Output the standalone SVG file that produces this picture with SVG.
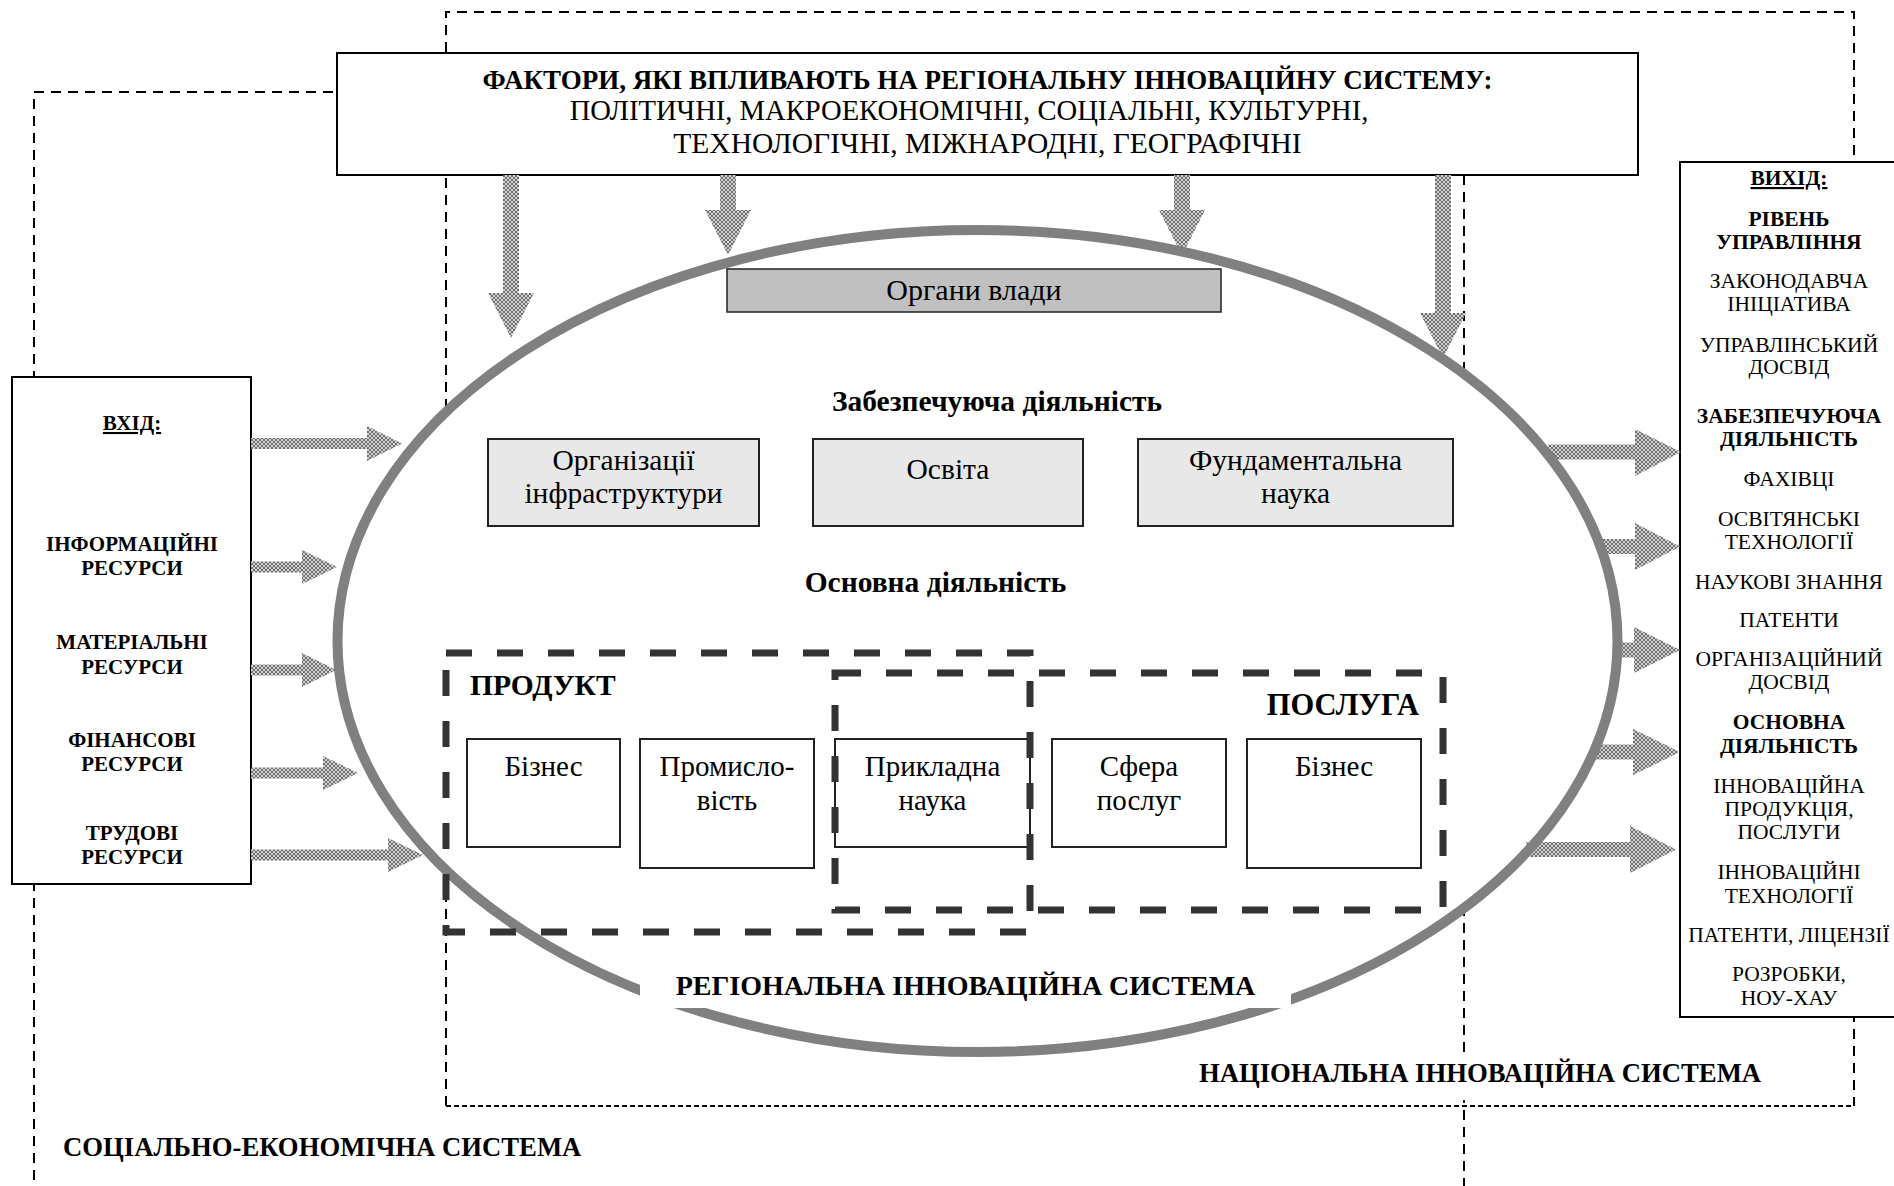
<svg xmlns="http://www.w3.org/2000/svg" width="1894" height="1186" viewBox="0 0 1894 1186">
<defs>
<pattern id="hatch" patternUnits="userSpaceOnUse" width="4" height="4">
<rect width="4" height="4" fill="#d4d4d4"/>
<path d="M0 0L4 4M4 0L0 4" stroke="#6e6e6e" stroke-width="1"/>
</pattern>
<style>
text{font-family:"Liberation Serif","Times New Roman",serif;fill:#000}
.b{font-weight:bold}
.sys{fill:none;stroke:#000;stroke-width:2;stroke-dasharray:10 7}
.sysf{fill:none;stroke:#000;stroke-width:2;stroke-dasharray:5 3}
.box{fill:#fff;stroke:#000;stroke-width:2}
.gbox{fill:#e8e8e8;stroke:#222;stroke-width:2}
.wbox{fill:#fff;stroke:#222;stroke-width:2}
.dbox{fill:none;stroke:#333;stroke-width:7;stroke-dasharray:26 25}
.arr{fill:url(#hatch);stroke:none}
.c{text-anchor:middle}
.in{font-size:21px;font-weight:bold}
.out{font-size:21.5px}
.outb{font-size:21.5px;font-weight:bold}
.bt{font-size:29.5px}
.bt2{font-size:29px}
.hd{font-size:29.5px;font-weight:bold}
</style>
</defs>

<g id="systems">
<rect id="socio-econ" class="sys" x="34" y="92" width="1430" height="1120"/>
<g id="national">
<path class="sys" d="M446 1106V12H1854V1106"/>
<path class="sysf" d="M446 1106H1854"/>
</g>
</g>

<g id="ellipse-fill">
<ellipse cx="977.5" cy="641" rx="640" ry="411" fill="#fff"/>
</g>

<g id="factors">
<rect class="box" x="337" y="53" width="1301" height="122"/>
<text class="c b" x="987.5" y="89" font-size="27">ФАКТОРИ, ЯКІ ВПЛИВАЮТЬ НА РЕГІОНАЛЬНУ ІННОВАЦІЙНУ СИСТЕМУ:</text>
<text class="c" x="969" y="120" font-size="28.6">ПОЛІТИЧНІ, МАКРОЕКОНОМІЧНІ, СОЦІАЛЬНІ, КУЛЬТУРНІ,</text>
<text class="c" x="987.5" y="153" font-size="29.5">ТЕХНОЛОГІЧНІ, МІЖНАРОДНІ, ГЕОГРАФІЧНІ</text>
</g>

<g id="input">
<rect class="box" x="12" y="377" width="239" height="507"/>
<text class="c in" x="132" y="430" text-decoration="underline">ВХІД:</text>
<text class="c in" x="132" y="551">ІНФОРМАЦІЙНІ</text>
<text class="c in" x="132" y="575">РЕСУРСИ</text>
<text class="c in" x="132" y="649">МАТЕРІАЛЬНІ</text>
<text class="c in" x="132" y="674">РЕСУРСИ</text>
<text class="c in" x="132" y="747">ФІНАНСОВІ</text>
<text class="c in" x="132" y="771">РЕСУРСИ</text>
<text class="c in" x="132" y="840">ТРУДОВІ</text>
<text class="c in" x="132" y="864">РЕСУРСИ</text>
</g>

<g id="output">
<rect class="box" x="1680" y="162" width="222" height="855"/>
<text class="c outb" x="1789" y="185" text-decoration="underline">ВИХІД:</text>
<text class="c outb" x="1789" y="226">РІВЕНЬ</text>
<text class="c outb" x="1789" y="249">УПРАВЛІННЯ</text>
<text class="c out" x="1789" y="288">ЗАКОНОДАВЧА</text>
<text class="c out" x="1789" y="311">ІНІЦІАТИВА</text>
<text class="c out" x="1789" y="352">УПРАВЛІНСЬКИЙ</text>
<text class="c out" x="1789" y="374">ДОСВІД</text>
<text class="c outb" x="1789" y="423">ЗАБЕЗПЕЧУЮЧА</text>
<text class="c outb" x="1789" y="446">ДІЯЛЬНІСТЬ</text>
<text class="c out" x="1789" y="486">ФАХІВЦІ</text>
<text class="c out" x="1789" y="526">ОСВІТЯНСЬКІ</text>
<text class="c out" x="1789" y="549">ТЕХНОЛОГІЇ</text>
<text class="c out" x="1789" y="589">НАУКОВІ ЗНАННЯ</text>
<text class="c out" x="1789" y="627">ПАТЕНТИ</text>
<text class="c out" x="1789" y="666">ОРГАНІЗАЦІЙНИЙ</text>
<text class="c out" x="1789" y="689">ДОСВІД</text>
<text class="c outb" x="1789" y="729">ОСНОВНА</text>
<text class="c outb" x="1789" y="753">ДІЯЛЬНІСТЬ</text>
<text class="c out" x="1789" y="793">ІННОВАЦІЙНА</text>
<text class="c out" x="1789" y="816">ПРОДУКЦІЯ,</text>
<text class="c out" x="1789" y="839">ПОСЛУГИ</text>
<text class="c out" x="1789" y="879">ІННОВАЦІЙНІ</text>
<text class="c out" x="1789" y="903">ТЕХНОЛОГІЇ</text>
<text class="c out" x="1789" y="942">ПАТЕНТИ, ЛІЦЕНЗІЇ</text>
<text class="c out" x="1789" y="981">РОЗРОБКИ,</text>
<text class="c out" x="1789" y="1005">НОУ-ХАУ</text>
</g>

<g id="connectors">
<polygon class="arr" points="503,175 519,175 519,293 534,293 511,338 488,293 503,293"/>
<polygon class="arr" points="720,175 736,175 736,210 751,210 728,255 705,210 720,210"/>
<polygon class="arr" points="1174,175 1190,175 1190,210 1205,210 1182,255 1159,210 1174,210"/>
<polygon class="arr" points="1435,175 1451,175 1451,313 1466,313 1443,358 1420,313 1435,313"/>

<polygon class="arr" points="251,438 367,438 367,426 402,443.5 367,461 367,449 251,449"/>
<polygon class="arr" points="251,561.5 302,561.5 302,550 337,567 302,584 302,572.5 251,572.5"/>
<polygon class="arr" points="251,664.5 302,664.5 302,653 336,670 302,687 302,675.5 251,675.5"/>
<polygon class="arr" points="251,767.5 323,767.5 323,756 358,773 323,790 323,778.5 251,778.5"/>
<polygon class="arr" points="251,849.5 388,849.5 388,838 423,855 388,872 388,860.5 251,860.5"/>

<polygon class="arr" points="1548,444.5 1635,444.5 1635,429 1681,452 1635,476 1635,459.5 1548,459.5"/>
<polygon class="arr" points="1602,539 1635,539 1635,523 1680,546.5 1635,570 1635,554 1602,554"/>
<polygon class="arr" points="1618,642.5 1634,642.5 1634,627 1680,650 1634,673 1634,657.5 1618,657.5"/>
<polygon class="arr" points="1595,744.5 1633,744.5 1633,729 1680,752 1633,775 1633,759.5 1595,759.5"/>
<polygon class="arr" points="1526,842 1630,842 1630,826 1676,849.5 1630,873 1630,857 1526,857"/>
</g>

<g id="regional-system">
<ellipse cx="977.5" cy="641" rx="640" ry="411" fill="none" stroke="#808080" stroke-width="10"/>
</g>

<g id="authorities">
<rect x="727" y="269" width="494" height="43" fill="#c0c0c0" stroke="#222" stroke-width="1.5"/>
<text class="c" x="974" y="300" font-size="30">Органи влади</text>
</g>

<text class="c hd" x="997" y="411">Забезпечуюча діяльність</text>

<g id="infra">
<rect class="gbox" x="488" y="439" width="271" height="87"/>
<text class="c bt" x="623.5" y="470">Організації</text>
<text class="c bt" x="623.5" y="503">інфраструктури</text>
</g>
<g id="education">
<rect class="gbox" x="813" y="439" width="270" height="87"/>
<text class="c bt" x="948" y="479">Освіта</text>
</g>
<g id="fundamental">
<rect class="gbox" x="1138" y="439" width="315" height="87"/>
<text class="c bt" x="1295.5" y="470">Фундаментальна</text>
<text class="c bt" x="1295.5" y="503">наука</text>
</g>

<text class="c hd" x="935.5" y="592">Основна діяльність</text>

<g id="business1">
<rect class="wbox" x="467" y="739" width="153" height="108"/>
<text class="c bt2" x="543.5" y="776">Бізнес</text>
</g>
<g id="industry">
<rect class="wbox" x="640" y="739" width="174" height="129"/>
<text class="c bt2" x="727" y="776">Промисло-</text>
<text class="c bt2" x="727" y="810">вість</text>
</g>
<g id="applied">
<rect class="wbox" x="835" y="739" width="195" height="108"/>
<text class="c bt2" x="932.5" y="776">Прикладна</text>
<text class="c bt2" x="932.5" y="810">наука</text>
</g>
<g id="services">
<rect class="wbox" x="1052" y="739" width="174" height="108"/>
<text class="c bt2" x="1139" y="776">Сфера</text>
<text class="c bt2" x="1139" y="810">послуг</text>
</g>
<g id="business2">
<rect class="wbox" x="1247" y="739" width="174" height="129"/>
<text class="c bt2" x="1334" y="776">Бізнес</text>
</g>

<g id="product">
<rect class="dbox" x="446" y="653" width="584" height="279"/>
<text class="b" x="470" y="695" font-size="29.5">ПРОДУКТ</text>
</g>
<g id="service">
<rect class="dbox" x="835" y="673" width="608" height="237"/>
<text class="b" x="1419" y="715" font-size="30.5" text-anchor="end">ПОСЛУГА</text>
</g>

<g id="labels">
<rect x="640" y="945" width="651" height="63" fill="#fff"/>
<text class="c b" x="965.5" y="995" font-size="28">РЕГІОНАЛЬНА ІННОВАЦІЙНА СИСТЕМА</text>
<rect x="1195" y="1053" width="570" height="47" fill="#fff"/>
<text class="c b" x="1480" y="1082" font-size="26.7">НАЦІОНАЛЬНА ІННОВАЦІЙНА СИСТЕМА</text>
<text class="b" x="63" y="1156" font-size="26.7">СОЦІАЛЬНО-ЕКОНОМІЧНА СИСТЕМА</text>
</g>
</svg>
